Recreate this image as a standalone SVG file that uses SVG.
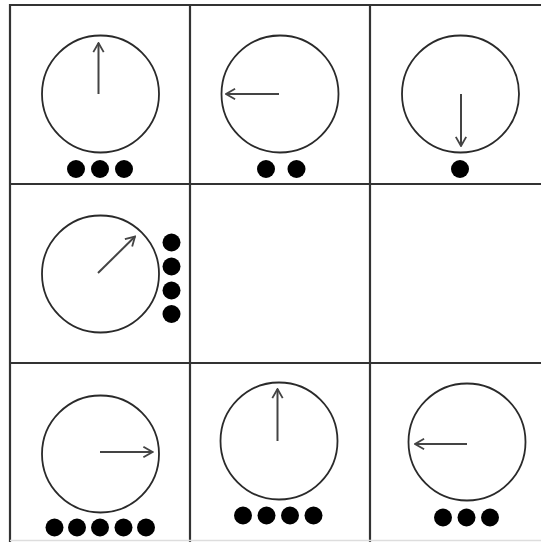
<svg xmlns="http://www.w3.org/2000/svg" width="541" height="542" viewBox="0 0 541 542">
<style>
.grid{stroke:#333;stroke-width:2.2;fill:none}
.dial{stroke:#2a2a2a;stroke-width:1.8;fill:none}
.hand{stroke:#444;stroke-width:2;fill:none;marker-end:url(#ah)}
.dot{fill:#000}
</style>
<defs>
<marker id="ah" viewBox="0 0 10 10" refX="9" refY="5" markerWidth="13" markerHeight="13" markerUnits="userSpaceOnUse" orient="auto">
<path d="M2,1 L9,5 L2,9" fill="none" stroke="#444" stroke-width="1.4"/>
</marker>
</defs>
<rect width="541" height="542" fill="#fff"/>
<g id="grid">
<line class="grid" x1="10" y1="5" x2="541" y2="5"/>
<line class="grid" x1="10" y1="184" x2="541" y2="184"/>
<line class="grid" x1="10" y1="363" x2="541" y2="363"/>
<line class="grid" x1="10" y1="4" x2="10" y2="542"/>
<line class="grid" x1="190" y1="4" x2="190" y2="542"/>
<line class="grid" x1="370" y1="4" x2="370" y2="542"/>
<line x1="10" y1="540.5" x2="541" y2="540.5" stroke="#ddd" stroke-width="1.5"/>
</g>
<g id="cell-1-1">
<circle class="dial" cx="100.5" cy="94" r="58.5"/>
<line class="hand" x1="98.5" y1="94" x2="98.5" y2="43"/>
<circle class="dot" cx="76" cy="169" r="9"/><circle class="dot" cx="100" cy="169" r="9"/><circle class="dot" cx="124" cy="169" r="9"/>
</g>
<g id="cell-1-2">
<circle class="dial" cx="280" cy="94" r="58.5"/>
<line class="hand" x1="279" y1="94" x2="226" y2="94"/>
<circle class="dot" cx="266" cy="169" r="9"/><circle class="dot" cx="296.5" cy="169" r="9"/>
</g>
<g id="cell-1-3">
<circle class="dial" cx="460.5" cy="94" r="58.5"/>
<line class="hand" x1="461" y1="94" x2="461" y2="146"/>
<circle class="dot" cx="460" cy="169" r="9"/>
</g>
<g id="cell-2-1">
<circle class="dial" cx="100.5" cy="274" r="58.5"/>
<line class="hand" x1="98" y1="273" x2="135" y2="236.5"/>
<circle class="dot" cx="171.5" cy="242.5" r="9"/><circle class="dot" cx="171.5" cy="266.5" r="9"/><circle class="dot" cx="171.5" cy="290.5" r="9"/><circle class="dot" cx="171.5" cy="314" r="9"/>
</g>
<g id="cell-3-1">
<circle class="dial" cx="100.5" cy="454" r="58.5"/>
<line class="hand" x1="100" y1="452" x2="152.5" y2="452"/>
<circle class="dot" cx="54.5" cy="527.5" r="9"/><circle class="dot" cx="77" cy="527.5" r="9"/><circle class="dot" cx="100" cy="527.5" r="9"/><circle class="dot" cx="123.5" cy="527.5" r="9"/><circle class="dot" cx="146" cy="527.5" r="9"/>
</g>
<g id="cell-3-2">
<circle class="dial" cx="279" cy="441" r="58.5"/>
<line class="hand" x1="277.5" y1="441" x2="277.5" y2="389"/>
<circle class="dot" cx="243" cy="515.5" r="9"/><circle class="dot" cx="266.5" cy="515.5" r="9"/><circle class="dot" cx="290" cy="515.5" r="9"/><circle class="dot" cx="313.5" cy="515.5" r="9"/>
</g>
<g id="cell-3-3">
<circle class="dial" cx="467" cy="442" r="58.5"/>
<line class="hand" x1="467" y1="444" x2="415" y2="444"/>
<circle class="dot" cx="443" cy="517.5" r="9"/><circle class="dot" cx="466.5" cy="517.5" r="9"/><circle class="dot" cx="490" cy="517.5" r="9"/>
</g>
</svg>
